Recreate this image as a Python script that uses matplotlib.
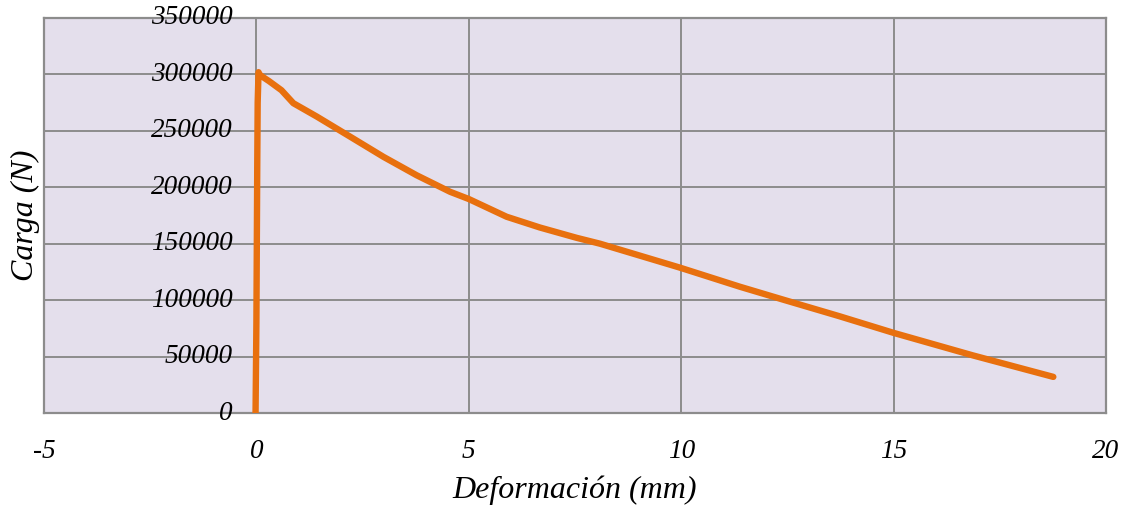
import matplotlib
matplotlib.use("Agg")
import matplotlib.pyplot as plt

# Load–deformation curve (mm, N)
deformacion = [-0.02, -0.01, 0.0, 0.01, 0.02, 0.03, 0.05, 0.08, 0.3, 0.59,
               0.87, 1.42, 2.2, 2.99, 3.77, 4.56, 5.0, 5.89, 6.67, 7.54,
               8.09, 9.97, 11.38, 12.44, 13.72, 15.0, 16.87, 18.76]
carga = [0, 40000, 80000, 150000, 220000, 275000, 302000, 299500, 294000, 286000,
         274500, 262700, 245000, 227000, 210700, 196000, 189600, 173900, 164400, 155200,
         150000, 128800, 111900, 100000, 85800, 71000, 51000, 32000]

x_ticks = [-5, 0, 5, 10, 15, 20]
y_ticks = [0, 50000, 100000, 150000, 200000, 250000, 300000, 350000]

W, H = 1132, 508
fig = plt.figure(figsize=(W / 100, H / 100), dpi=100)
ax = fig.add_axes([44 / W, (H - 413) / H, 1062 / W, 395 / H])

bg = "#E4DFEC"
grid_c = "#8C8C8C"
ax.set_facecolor(bg)
font = dict(family="Liberation Serif", style="italic")

ax.plot(deformacion, carga, color="#E8700E", lw=4.6,
        solid_capstyle="round", solid_joinstyle="round", zorder=3)

ax.set_xlim(-5, 20)
ax.set_ylim(0, 350000)
ax.set_xticks(x_ticks)
ax.set_yticks(y_ticks)
ax.grid(True, color=grid_c, lw=1.4, zorder=1)
ax.set_axisbelow(True)
for s in ax.spines.values():
    s.set_color(grid_c)
    s.set_linewidth(1.6)

ax.tick_params(axis="both", length=0)
ax.set_xticklabels([str(t) for t in x_ticks], fontsize=19.5, **font)
ax.tick_params(axis="x", pad=19)
ax.set_yticklabels([])

# Y tick labels sit beside the vertical axis at x = 0
for v in y_ticks:
    ax.annotate(str(v), xy=(0, v), xytext=(-17, 0), textcoords="offset points",
                ha="right", va="center", fontsize=19.5, annotation_clip=False,
                zorder=4, **font)

ax.set_xlabel("Deformación (mm)", fontsize=23, labelpad=8, **font)
fig.text(25 / W, 1 - 215 / H, "Carga (N)", rotation=90, ha="center", va="center",
         fontsize=23, **font)

fig.savefig("out.png", dpi=100)
